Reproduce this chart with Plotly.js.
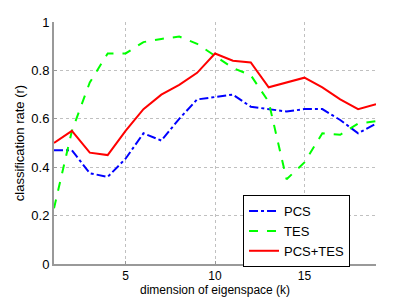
<!DOCTYPE html>
<html>
<head>
<meta charset="utf-8">
<script src="https://cdn.plot.ly/plotly-3.0.1.min.js"></script>
<style>html,body{margin:0;padding:0;background:#fff;}#chart{width:415px;height:298px;}</style>
</head>
<body>
<div id="chart"></div>
<script>
const k = [1,2,3,4,5,6,7,8,9,10,11,12,13,14,15,16,17,18,19];
const pcs = [0.47,0.47,0.375,0.36,0.435,0.54,0.51,0.60,0.68,0.69,0.70,0.65,0.64,0.63,0.64,0.64,0.595,0.54,0.58];
const tes = [0.23,0.55,0.75,0.87,0.87,0.917,0.93,0.94,0.91,0.86,0.81,0.78,0.67,0.35,0.42,0.54,0.534,0.58,0.59];
const pcsTes = [0.50,0.55,0.46,0.45,0.55,0.64,0.70,0.74,0.79,0.87,0.84,0.833,0.73,0.75,0.77,0.73,0.68,0.64,0.66];
const names = ["PCS","TES","PCS+TES"];
const xTicks = [5,10,15];
const yTicks = [0,0.2,0.4,0.6,0.8,1];
const yTickText = ["0","0.2","0.4","0.6","0.8","1"];
const xTitle = "dimension of eigenspace (k)";
const yTitle = "classification rate (r)";

const FONT = "Liberation Sans, Arial, sans-serif";
const traces = [
  {x:k, y:pcs, name:names[0], mode:"lines", line:{color:"#0000ff", width:2, dash:"dashdot"}},
  {x:k, y:tes, name:names[1], mode:"lines", line:{color:"#00ff00", width:2, dash:"dash"}},
  {x:k, y:pcsTes, name:names[2], mode:"lines", line:{color:"#ff0000", width:2}}
];
const axisCommon = {
  showline:true, linecolor:"#999", linewidth:2, mirror:false,
  ticks:"inside", ticklen:3, tickcolor:"#999",
  showgrid:true, gridcolor:"#c0c0c0", griddash:"dot", gridwidth:1,
  zeroline:false, tickfont:{family:FONT, size:13, color:"#000"}
};
const layout = {
  width:415, height:298,
  margin:{l:54, r:39, t:22, b:34},
  paper_bgcolor:"#fff", plot_bgcolor:"#fff",
  showlegend:true,
  legend:{x:0.587, y:0.285, xanchor:"left", yanchor:"top", bgcolor:"#fff", bordercolor:"#000", borderwidth:1,
          font:{family:FONT, size:13, color:"#000"}, tracegroupgap:0},
  xaxis:Object.assign({}, axisCommon, {range:[1,19], tickvals:xTicks, tickfont:{family:FONT, size:12, color:"#000"}}),
  yaxis:Object.assign({}, axisCommon, {range:[0,1], tickvals:yTicks, ticktext:yTickText,
    title:{text:yTitle, font:{family:FONT, size:13, color:"#000"}, standoff:4}}),
  annotations:[{text:xTitle, xref:"paper", yref:"paper", x:0.5, y:-0.108, xanchor:"center", yanchor:"middle",
    showarrow:false, font:{family:FONT, size:12, color:"#000"}}]
};
Plotly.newPlot("chart", traces, layout, {staticPlot:true, displayModeBar:false});
</script>
</body>
</html>
